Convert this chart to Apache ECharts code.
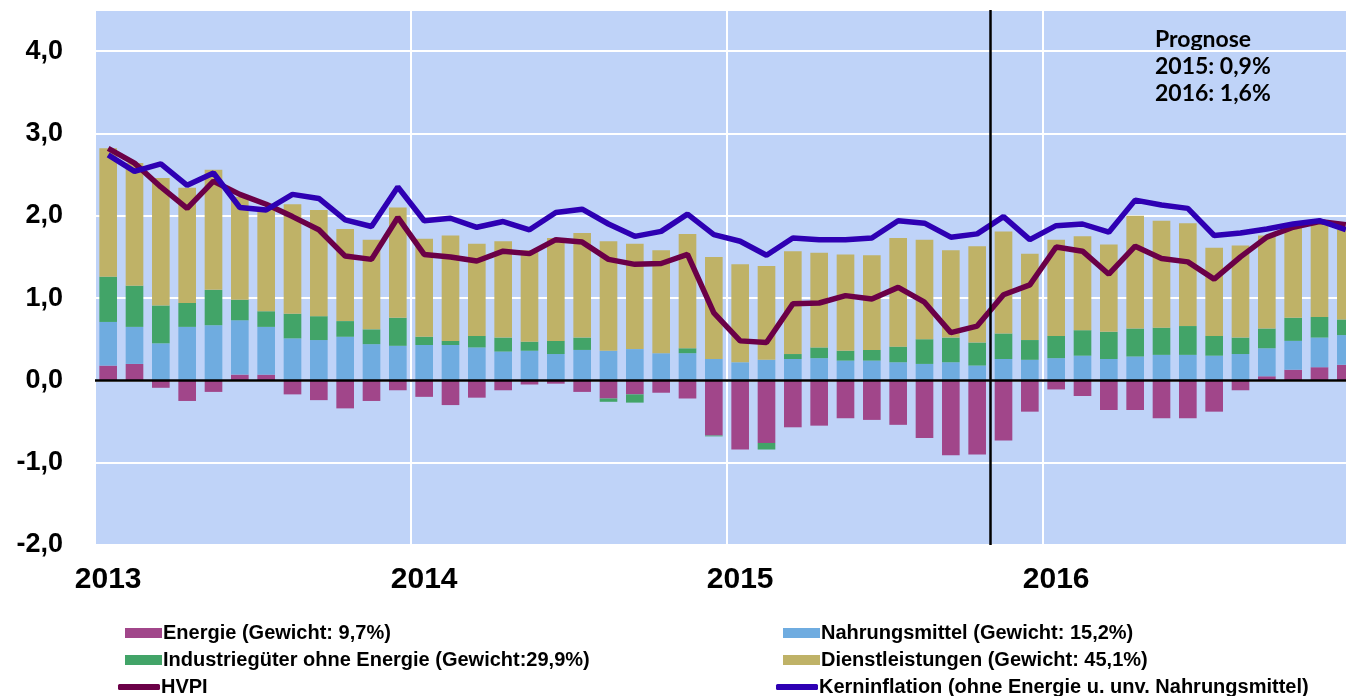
<!DOCTYPE html>
<html>
<head>
<meta charset="UTF-8">
<title>HVPI Beiträge</title>
<script src="https://cdn.jsdelivr.net/npm/echarts@6/dist/echarts.min.js"></script>
<style>
  html, body { margin: 0; padding: 0; background: #fff; overflow: hidden; }
  /* Diagramm ist rechts etwas breiter als das Fenster (wie im Original abgeschnitten) */
  #chart { width: 1359px; height: 696px; }
</style>
</head>
<body>
<div id="chart"></div>
<script>
// Jahre und Monate (Jan 2013 - Dez 2016)
var years = ['2013', '2014', '2015', '2016'];
var months = ['01', '02', '03', '04', '05', '06', '07', '08', '09', '10', '11', '12'];

// Beiträge in Prozentpunkten
var energie = [
  0.18, 0.20, -0.09, -0.25, -0.14, 0.07, 0.07, -0.17, -0.24, -0.34, -0.25, -0.12,
  -0.20, -0.30, -0.21, -0.12, -0.05, -0.04, -0.14, -0.22, -0.17, -0.15, -0.22, -0.67,
  -0.84, -0.76, -0.57, -0.55, -0.46, -0.48, -0.54, -0.70, -0.91, -0.90, -0.73, -0.38,
  -0.11, -0.19, -0.36, -0.36, -0.46, -0.46, -0.38, -0.12, 0.05, 0.13, 0.16, 0.19
];
var nahrung = [
  0.53, 0.45, 0.45, 0.65, 0.67, 0.66, 0.58, 0.51, 0.49, 0.53, 0.44, 0.42,
  0.43, 0.43, 0.40, 0.35, 0.36, 0.32, 0.37, 0.36, 0.38, 0.33, 0.33, 0.26,
  0.22, 0.25, 0.26, 0.27, 0.24, 0.24, 0.22, 0.20, 0.22, 0.18, 0.26, 0.25,
  0.27, 0.30, 0.26, 0.29, 0.31, 0.31, 0.30, 0.32, 0.34, 0.35, 0.36, 0.36
];
var industrie = [
  0.55, 0.50, 0.46, 0.29, 0.43, 0.25, 0.19, 0.30, 0.29, 0.19, 0.18, 0.34,
  0.10, 0.05, 0.14, 0.17, 0.11, 0.16, 0.15, -0.04, -0.10, 0.00, 0.06, -0.01,
  0.00, -0.08, 0.06, 0.13, 0.12, 0.13, 0.19, 0.30, 0.30, 0.28, 0.31, 0.24,
  0.27, 0.31, 0.33, 0.34, 0.33, 0.35, 0.24, 0.20, 0.24, 0.28, 0.25, 0.19
];
var dienst = [
  1.56, 1.49, 1.55, 1.40, 1.46, 1.25, 1.23, 1.33, 1.29, 1.12, 1.09, 1.34,
  1.19, 1.28, 1.12, 1.17, 1.11, 1.25, 1.27, 1.33, 1.28, 1.25, 1.39, 1.24,
  1.19, 1.14, 1.25, 1.15, 1.17, 1.15, 1.32, 1.21, 1.06, 1.17, 1.24, 1.05,
  1.17, 1.14, 1.06, 1.37, 1.30, 1.25, 1.07, 1.12, 1.13, 1.10, 1.16, 1.09
];
var hvpi = [
  2.82, 2.64, 2.35, 2.09, 2.42, 2.26, 2.14, 1.99, 1.83, 1.51, 1.47, 1.98,
  1.53, 1.50, 1.45, 1.57, 1.54, 1.71, 1.68, 1.47, 1.41, 1.42, 1.53, 0.82,
  0.48, 0.46, 0.93, 0.94, 1.03, 0.99, 1.13, 0.95, 0.58, 0.66, 1.04, 1.16,
  1.62, 1.57, 1.29, 1.63, 1.48, 1.44, 1.23, 1.50, 1.74, 1.86, 1.93, 1.89
];
var kern = [
  2.74, 2.54, 2.63, 2.37, 2.52, 2.10, 2.07, 2.26, 2.21, 1.95, 1.87, 2.35,
  1.94, 1.97, 1.86, 1.93, 1.83, 2.04, 2.08, 1.90, 1.75, 1.81, 2.02, 1.77,
  1.69, 1.52, 1.73, 1.71, 1.71, 1.73, 1.94, 1.91, 1.74, 1.78, 1.99, 1.71,
  1.88, 1.90, 1.80, 2.19, 2.13, 2.09, 1.76, 1.79, 1.84, 1.90, 1.94, 1.83
];

var names = [
  'Energie (Gewicht: 9,7%)',
  'Nahrungsmittel (Gewicht: 15,2%)',
  'Industriegüter ohne Energie (Gewicht:29,9%)',
  'Dienstleistungen (Gewicht: 45,1%)',
  'HVPI',
  'Kerninflation (ohne Energie u. unv. Nahrungsmittel)'
];
var prognose = ['Prognose', '2015: 0,9%', '2016: 1,6%'];
var prognoseStart = 34; // Monate ab Jan 2013 (Ende Okt 2015)

var categories = [];
years.forEach(function (y) {
  months.forEach(function (m) { categories.push(y + '-' + m); });
});

var font = '"Liberation Sans", Arial, sans-serif';
var colors = ['#a1468a', '#6face0', '#42a468', '#bfb267', '#6b0047', '#2e00b3'];

function bar(i, data) {
  return {
    name: names[i], type: 'bar', stack: 'hvpi', data: data,
    barCategoryGap: '33%',
    itemStyle: { color: colors[i] }
  };
}
function line(i, data) {
  return {
    name: names[i], type: 'line', data: data, symbol: 'none', z: 4,
    lineStyle: { color: colors[i], width: 5.5 },
    itemStyle: { color: colors[i] }
  };
}
// eine Legende je Eintrag: Spalte links/rechts, Zeile 0..2
function legendItem(i, col, row, isLine) {
  return {
    left: col === 0 ? (isLine ? 113 : 120) : (isLine ? 771 : 778),
    top: 618 + row * 27,
    itemWidth: isLine ? 42 : 37,
    itemHeight: isLine ? 6 : 10,
    icon: isLine ? 'roundRect' : 'rect',
    itemGap: 0,
    textStyle: { fontFamily: font, fontWeight: 'bold', fontSize: 20, color: '#000', padding: [0, 0, 0, -4] },
    data: [names[i]]
  };
}

var chart = echarts.init(document.getElementById('chart'));
chart.setOption({
  animation: false,
  grid: {
    left: 95, right: 0, top: 10, bottom: 151,
    show: true, backgroundColor: '#bfd3f8', borderWidth: 0
  },
  xAxis: [{
    type: 'category',
    data: categories,
    axisLine: { show: false, onZero: false },
    axisTick: { show: false },
    splitLine: {
      show: true,
      interval: function (idx) { return idx % 12 === 0; },
      lineStyle: { color: '#ffffff', width: 2 }
    },
    axisLabel: {
      interval: function (idx) { return idx % 12 === 0; },
      formatter: function (v) { return v.slice(0, 4); },
      fontFamily: font, fontWeight: 'bold', fontSize: 30, color: '#000',
      margin: 20
    }
  }, {
    type: 'value', min: 0, max: 48, show: false
  }],
  yAxis: {
    type: 'value', min: -2, max: 4.5, interval: 1,
    axisLine: { show: false },
    axisTick: { show: false },
    splitLine: { lineStyle: { color: '#ffffff', width: 2 } },
    axisLabel: {
      formatter: function (v) { return v > 4.1 ? '' : v.toFixed(1).replace('.', ','); },
      fontFamily: font, fontWeight: 'bold', fontSize: 27, color: '#000',
      margin: 32
    }
  },
  legend: [
    legendItem(0, 0, 0, false),
    legendItem(2, 0, 1, false),
    legendItem(4, 0, 2, true),
    legendItem(1, 1, 0, false),
    legendItem(3, 1, 1, false),
    legendItem(5, 1, 2, true)
  ],
  graphic: [{
    type: 'text', left: 1155, top: 26,
    style: {
      text: prognose.join('\n'),
      font: 'bold 23px Lato, "Open Sans", sans-serif',
      lineHeight: 27, fill: '#000'
    }
  }],
  series: [
    bar(0, energie), bar(1, nahrung), bar(2, industrie), bar(3, dienst),
    line(4, hvpi), line(5, kern),
    {
      type: 'line', xAxisIndex: 1, data: [], z: 6, silent: true,
      markLine: {
        silent: true, symbol: 'none', label: { show: false },
        lineStyle: { color: '#000', width: 2.5, type: 'solid' },
        data: [{ xAxis: prognoseStart }, { yAxis: 0 }]
      }
    }
  ]
});
</script>
</body>
</html>
